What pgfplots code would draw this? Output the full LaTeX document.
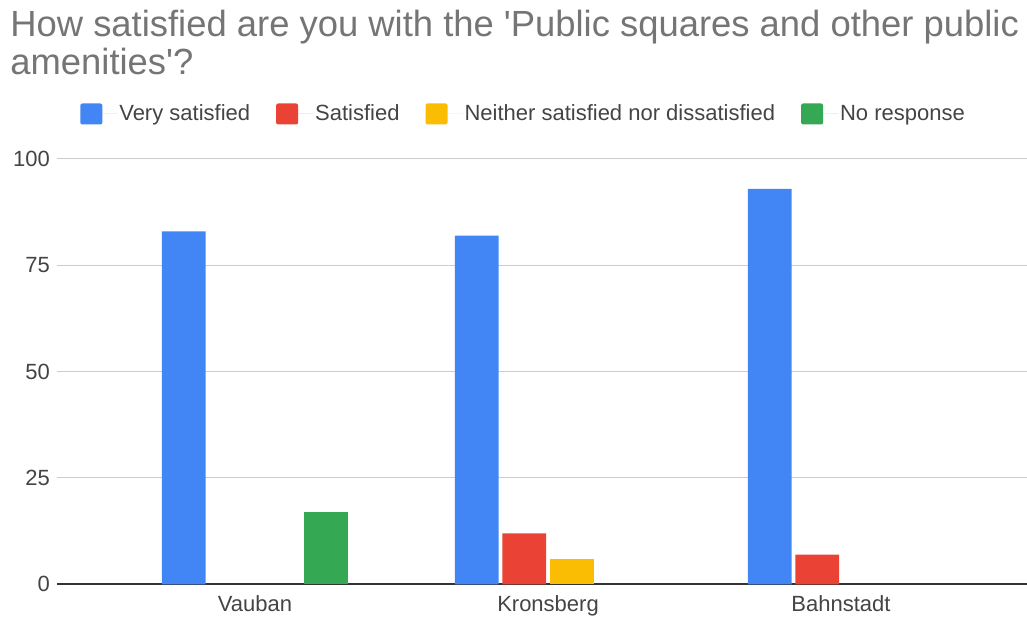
\documentclass[border=0pt]{standalone}
\usepackage{pgfplots}
\pgfplotsset{compat=1.18}
\usepackage{fontspec}
\setmainfont{Liberation Sans}
\newfontfamily\plainfont{Liberation Sans}
\definecolor{cblue}{HTML}{4285F4}
\definecolor{cred}{HTML}{EA4335}
\definecolor{cyellow}{HTML}{FBBC04}
\definecolor{cgreen}{HTML}{34A853}
\definecolor{ctitle}{HTML}{757575}
\definecolor{ctext}{HTML}{444444}
\definecolor{cgrid}{HTML}{CCCCCC}
\definecolor{caxis}{HTML}{333333}
\begin{document}
\begin{tikzpicture}
\useasboundingbox (-28.5pt,-17.35pt) rectangle (485pt,292.15pt);
\begin{axis}[
  at={(0,0)}, anchor=south west,
  scale only axis, width=485pt, height=212.65pt,
  xmin=-0.6758, xmax=2.6348, ymin=0, ymax=100,
  ybar, bar width=0.150,
  axis line style={draw=none},
  major tick length=0pt,
  xtick={0,1,2}, xticklabels={Vauban,Kronsberg,Bahnstadt},
  ytick={25,50,75,100},
  extra y ticks={0},
  extra y tick style={grid style={draw=caxis, line width=0.8pt}},
  ymajorgrids, grid style={draw=cgrid, line width=0.5pt},
  tick label style={font=\fontsize{11}{13}\selectfont, text=ctext},
  /pgf/number format/assume math mode=true,
  xticklabel style={yshift=-2pt},
  legend columns=4,
  legend style={draw=none, fill=none, at={(0.481,1.1058)}, anchor=center,
    font=\fontsize{11}{13}\selectfont, text=ctext,
    nodes={inner sep=1pt},
    /tikz/every even column/.append style={column sep=12pt}},
  legend image code/.code={\path (0pt,0pt) -- (18.5pt,0pt); \fill[#1, rounded corners=1pt] (0pt,-5.25pt) rectangle (11pt,5.25pt);},
]
\addplot[draw=none, fill=cblue, bar shift=-0.2432] coordinates {(0,83) (1,82) (2,93)};
\addplot[draw=none, fill=cred, bar shift=-0.0811] coordinates {(1,12) (2,7)};
\addplot[draw=none, fill=cyellow, bar shift=0.0811] coordinates {(1,6)};
\addplot[draw=none, fill=cgreen, bar shift=0.2432] coordinates {(0,17)};
\legend{Very satisfied, Satisfied, Neither satisfied nor dissatisfied, No response}
\end{axis}
\node[anchor=base west, inner sep=0pt, text=ctitle, font=\plainfont\fontsize{18.2}{20}\selectfont] at (-23.5pt,273.65pt) {How satisfied are you with the 'Public squares and other public};
\node[anchor=base west, inner sep=0pt, text=ctitle, font=\plainfont\fontsize{18.2}{20}\selectfont] at (-23.5pt,254.65pt) {amenities'?};
\end{tikzpicture}
\end{document}
